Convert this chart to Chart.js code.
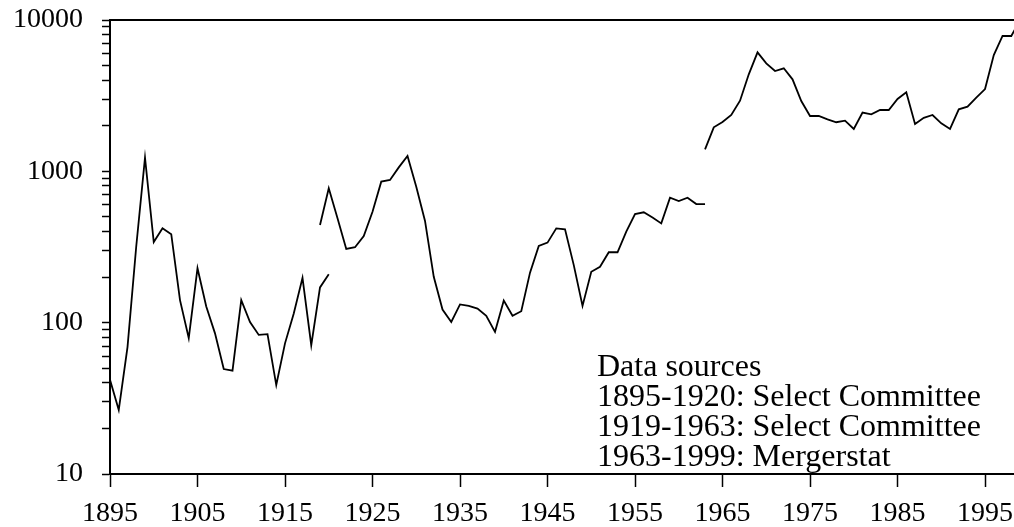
<!DOCTYPE html>
<html>
<head>
<meta charset="utf-8">
<script src="https://cdn.jsdelivr.net/npm/chart.js@4/dist/chart.umd.min.js"></script>
<style>
  html, body { margin: 0; padding: 0; background: #fff; }
  #wrap { width: 1014px; height: 527px; }
</style>
</head>
<body>
<div id="wrap"><canvas id="chart" width="1014" height="527"></canvas></div>
<script>
// Series 1: 1895-1920, Select Committee
const years1 = [1895, 1896, 1897, 1898, 1899, 1900, 1901, 1902, 1903, 1904, 1905, 1906, 1907,
  1908, 1909, 1910, 1911, 1912, 1913, 1914, 1915, 1916, 1917, 1918, 1919, 1920];
const values1 = [42, 26.5, 69, 320, 1230, 341, 420, 384, 141, 79, 229, 128, 85,
  49.4, 48.2, 141, 101, 83, 84, 38.7, 73, 115, 198, 71, 171, 209];

// Series 2: 1919-1963, Select Committee
const years2 = [1919, 1920, 1921, 1922, 1923, 1924, 1925, 1926, 1927, 1928, 1929, 1930,
  1931, 1932, 1933, 1934, 1935, 1936, 1937, 1938, 1939, 1940, 1941, 1942, 1943, 1944,
  1945, 1946, 1947, 1948, 1949, 1950, 1951, 1952, 1953, 1954, 1955, 1956, 1957, 1958,
  1959, 1960, 1961, 1962, 1963];
const values2 = [442, 773, 489, 307, 315, 374, 541, 855, 877, 1062, 1262, 792,
  470, 201, 122, 101, 132, 129, 124, 111, 87, 140, 111, 119, 214, 321,
  338, 420, 414, 240, 129, 217, 234, 292, 292, 399, 522, 536, 495, 453,
  670, 637, 670, 608, 608];

// Series 3: 1963-1999, Mergerstat
const years3 = [1963, 1964, 1965, 1966, 1967, 1968, 1969, 1970, 1971, 1972, 1973, 1974,
  1975, 1976, 1977, 1978, 1979, 1980, 1981, 1982, 1983, 1984, 1985, 1986, 1987, 1988,
  1989, 1990, 1991, 1992, 1993, 1994, 1995, 1996, 1997, 1998, 1999];
const values3 = [1397, 1954, 2118, 2356, 2930, 4375, 6113, 5173, 4603, 4795, 4055, 2915,
  2321, 2321, 2206, 2110, 2163, 1905, 2443, 2382, 2543, 2543, 3006, 3327, 2054, 2259,
  2356, 2076, 1905, 2570, 2673, 3069, 3499, 5870, 7840, 7840, 10000];

// Axis ticks and labels
const xTicks = [1895, 1905, 1915, 1925, 1935, 1945, 1955, 1965, 1975, 1985, 1995];
const yTicks = [10, 100, 1000, 10000];
const noteLines = [
  "Data sources",
  "1895-1920: Select Committee",
  "1919-1963: Select Committee",
  "1963-1999: Mergerstat"
];

const serif = "'Liberation Serif', 'Times New Roman', serif";

function toPoints(xs, ys) {
  return xs.map((x, i) => ({ x: x, y: ys[i] }));
}

// minor log ticks 1..9 per decade between the labelled powers of ten
function logTicks() {
  const out = [];
  for (let d = 0; d < yTicks.length - 1; d++) {
    for (let k = 1; k <= 9; k++) out.push({ value: yTicks[d] * k });
  }
  out.push({ value: yTicks[yTicks.length - 1] });
  return out;
}

// top frame line and the data-sources note
const frameAndNote = {
  id: "frameAndNote",
  afterDraw(chart) {
    const { ctx, chartArea } = chart;
    ctx.save();
    ctx.strokeStyle = "#000";
    ctx.lineWidth = 2;
    ctx.beginPath();
    ctx.moveTo(chartArea.left - 1, chartArea.top);
    ctx.lineTo(chartArea.right, chartArea.top);
    ctx.stroke();

    ctx.fillStyle = "#000";
    ctx.font = "32px " + serif;
    ctx.textBaseline = "alphabetic";
    ctx.textAlign = "left";
    noteLines.forEach((line, i) => {
      ctx.fillText(line, 597, 376 + i * 30);
    });
    ctx.restore();
  }
};

const lineStyle = {
  borderColor: "#000",
  borderWidth: 1.8,
  pointRadius: 0,
  fill: false,
  tension: 0
};

new Chart(document.getElementById("chart").getContext("2d"), {
  type: "line",
  data: {
    datasets: [
      Object.assign({ label: "1895-1920", data: toPoints(years1, values1) }, lineStyle),
      Object.assign({ label: "1919-1963", data: toPoints(years2, values2) }, lineStyle),
      Object.assign({ label: "1963-1999", data: toPoints(years3, values3) }, lineStyle)
    ]
  },
  options: {
    responsive: false,
    animation: false,
    devicePixelRatio: 1,
    layout: { padding: { top: 20, right: 0, left: 0, bottom: 0 } },
    plugins: {
      legend: { display: false },
      tooltip: { enabled: false }
    },
    scales: {
      x: {
        type: "linear",
        min: 1895,
        max: 1998.31,
        afterBuildTicks: (scale) => { scale.ticks = xTicks.map(v => ({ value: v })); },
        afterFit: (scale) => {
          scale.height = 53;
          scale.paddingLeft = 0;
          scale.paddingRight = 0;
        },
        border: { display: true, color: "#000", width: 2 },
        grid: { drawOnChartArea: false, color: "#000", tickLength: 13, tickWidth: 1.5 },
        ticks: {
          autoSkip: false,
          maxRotation: 0,
          padding: 10,
          color: "#000",
          font: { family: serif, size: 28 },
          callback: (v) => String(v)
        }
      },
      y: {
        type: "logarithmic",
        min: 10,
        max: 10000,
        afterBuildTicks: (scale) => { scale.ticks = logTicks(); },
        afterFit: (scale) => {
          scale.width = 110;
          scale.paddingTop = 0;
          scale.paddingBottom = 0;
        },
        border: { display: true, color: "#000", width: 2 },
        grid: { drawOnChartArea: false, color: "#000", tickLength: 8, tickWidth: 1.5 },
        ticks: {
          autoSkip: false,
          padding: 19,
          color: "#000",
          font: { family: serif, size: 28 },
          callback: (v) => (yTicks.includes(v) ? String(v) : "")
        }
      }
    }
  },
  plugins: [frameAndNote]
});
</script>
</body>
</html>
